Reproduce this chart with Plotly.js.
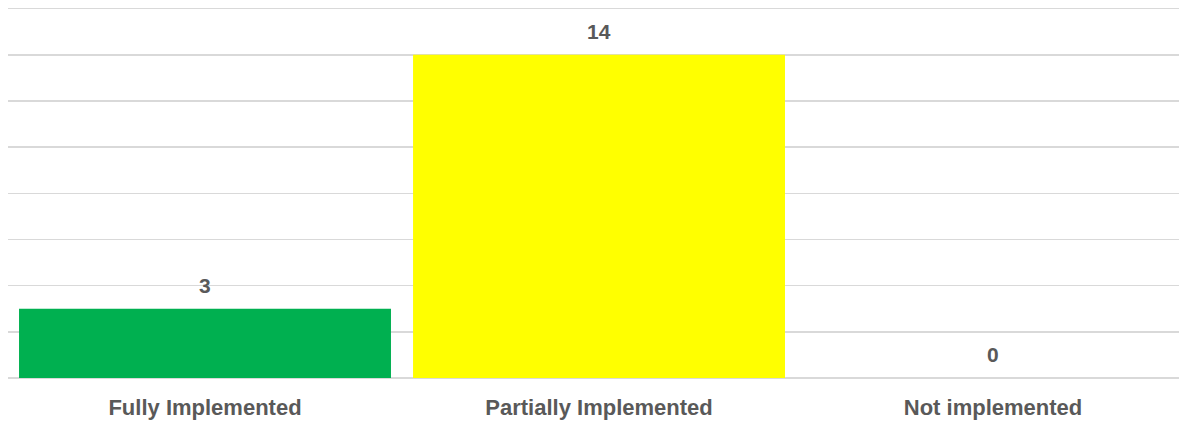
<!DOCTYPE html>
<html>
<head>
<meta charset="utf-8">
<script src="https://cdn.plot.ly/plotly-3.0.1.min.js"></script>
<style>html,body{margin:0;padding:0;background:#fff;}#chart{width:1179px;height:421px;}</style>
</head>
<body>
<div id="chart"></div>
<script>
const categories = ["Fully Implemented", "Partially Implemented", "Not implemented"];
const counts = [3, 14, 0];
const barColors = ["#00B050", "#FFFF00", "#FFFFFF"];

const textColor = "#595959";
const fontFamily = "Liberation Sans, Arial, sans-serif";

const trace = {
  type: "bar",
  x: categories,
  y: counts,
  marker: {color: barColors, line: {width: 0}},
  hoverinfo: "none"
};

const annotations = categories.map((c, i) => ({
  x: c, y: counts[i], text: String(counts[i]),
  xref: "x", yref: "y", showarrow: false,
  yanchor: "bottom", yshift: 10,
  font: {family: fontFamily, size: 21, color: textColor, weight: 700}
}));

const layout = {
  width: 1179, height: 421,
  margin: {l: 8, r: 0, t: 4, b: 43},
  paper_bgcolor: "#fff", plot_bgcolor: "#fff",
  bargap: 0.056,
  showlegend: false,
  xaxis: {
    type: "category",
    range: [-0.5, 2.472],
    showgrid: false, zeroline: false, showline: false,
    ticks: "",
    ticklabelstandoff: 14,
    tickfont: {family: fontFamily, size: 22, color: textColor, weight: 700},
    fixedrange: true
  },
  yaxis: {
    range: [0, 16.2],
    dtick: 2,
    showticklabels: false,
    showgrid: true, gridcolor: "#d9d9d9", gridwidth: 1.5,
    zeroline: true, zerolinecolor: "#d9d9d9", zerolinewidth: 1.5,
    showline: false, ticks: "",
    fixedrange: true
  },
  annotations: annotations
};

Plotly.newPlot("chart", [trace], layout, {displayModeBar: false, staticPlot: true});
</script>
</body>
</html>
